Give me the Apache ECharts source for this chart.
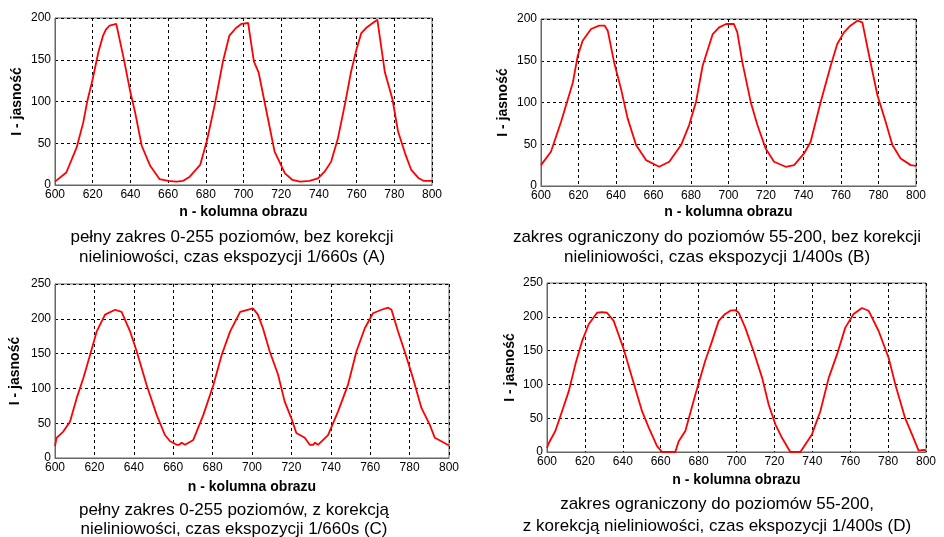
<!DOCTYPE html>
<html>
<head>
<meta charset="utf-8">
<script src="https://cdn.jsdelivr.net/npm/echarts@6/dist/echarts.min.js"></script>
<style>
  html, body { margin: 0; padding: 0; background: #fff; }
  #box { width: 944px; height: 537px; }
</style>
</head>
<body>
<div id="box"></div>
<script>
// column numbers (x) and brightness (y)
const xA = [600,606,611.5,615,617,620,623,625.5,627,629,632.5,633.5,636.5,640,642.5,646,650.5,655.5,660,664.5,668,671.5,677,680.5,685,689,692.5,696,699,702.5,703.5,705.5,708,713,716.5,722,726,730,735,739.5,743,746.5,750,754,757,760,762.5,765,768,771,772,775,779,782,786,789,793,795.5,800];
const yA = [4,15,45,75,99,127,159,179,186,191,193,191,151,111,87,47,23,7,5,4,5,10,24,52,99,147,179,188,193,194,178,148,135,79,40,14,6,4,5,8,16,28,55,99,135,163,182,188,193,198,196,135,103,64,36,18,8,5,5];

const xB = [600,605.3,610.7,615,617,619.6,622.2,626.7,631,634,635.6,639,642.7,646.2,650.7,656,663,668.4,674.7,679,682.7,686.2,691.6,695,698.7,702.9,704.7,707.4,711.8,715.4,719.8,724.3,730.5,735,740.3,743.8,749.2,754.5,758,761.6,765,768.7,771.4,775,779.4,783.8,787.4,791.8,797.2,800];
const yB = [25,41,77,109,124,156,174,188,192,192,186,148,116,81,49,31,23,29,49,73,101,144,182,190,194,194,184,148,101,73,45,29,23,25,39,53,101,144,170,184,192,198,196,156,109,77,49,33,25,24];

const xC = [600,600.8,604.2,607.6,611,614.4,617.8,621.2,625.4,630.5,633.8,638.1,641.5,646.5,651.6,655.8,658.4,661.8,663,664.3,666,670.2,675.3,680.4,684.6,688.9,694,700.5,703,705.6,709,713.2,716.6,720,722.5,726.8,729.3,731,732,733.5,738.6,743.7,748.7,753,757.2,761.4,765.7,769.1,770.8,774.1,777.5,781.7,786,790.2,792.8,796.1,800];
const yC = [17,29,38,52,86,115,148,182,206,213,210,182,153,105,62,33,24,19,19,22,19,26,62,105,148,182,210,215,206,186,153,120,81,57,36,29,19,19,22,19,33,67,105,153,186,208,213,216,213,182,153,115,72,48,29,24,18];

const xD = [600,600.9,604.4,607.9,611.5,615,618.5,622,626.4,629,631.7,635.2,640.5,644.9,650.2,653.7,658,660.7,667.7,669.5,673,678.3,683.5,687.1,690.6,693.5,696.7,699.4,701.2,704.6,709,713.5,717,720.5,724,728.4,733.7,739.8,744.2,748.7,753,757.4,761.8,766.2,769.7,775,780.3,783.8,789,792.6,796.1,798.7,800];
const yD = [6,13,31,60,90,130,164,189,206,207,206,194,152,110,60,36,9,0,0,16,31,85,135,164,194,203,209,210,206,184,149,110,70,41,21,0,0,26,60,110,144,184,204,213,209,179,139,100,50,26,2,3,2];

const yMaxTop = 200;
const yMaxBottom = 250;
const xName = 'n - kolumna obrazu';
const yName = 'I - jasność';
const captions = [
  'pełny zakres 0-255 poziomów, bez korekcji\nnieliniowości, czas ekspozycji 1/660s (A)',
  'zakres ograniczony do poziomów 55-200, bez korekcji\nnieliniowości, czas ekspozycji 1/400s (B)',
  'pełny zakres 0-255 poziomów, z korekcją\nnieliniowości, czas ekspozycji 1/660s (C)',
  'zakres ograniczony do poziomów 55-200,\nz korekcją nieliniowości, czas ekspozycji 1/400s (D)'
];

const FONT = '"Liberation Sans", Arial, sans-serif';

// panel layout: plot box, axis name gaps, caption position
const panels = [
  { x: xA, y: yA, max: yMaxTop,    grid: { left: 55,  top: 18,  width: 377, height: 167 }, ygap: 31, xgap: 20, cap: [232, 227, 20] },
  { x: xB, y: yB, max: yMaxTop,    grid: { left: 541, top: 19,  width: 375, height: 167 }, ygap: 31, xgap: 19, cap: [717, 227, 20] },
  { x: xC, y: yC, max: yMaxBottom, grid: { left: 55,  top: 284, width: 394, height: 174 }, ygap: 33, xgap: 22, cap: [234, 501, 19] },
  { x: xD, y: yD, max: yMaxBottom, grid: { left: 547, top: 283, width: 379, height: 169 }, ygap: 30, xgap: 21, cap: [717, 493, 22] }
];

const dashed = { color: '#000', type: [3, 3], width: 1 };

const chart = echarts.init(document.getElementById('box'));
const option = {
  animation: false,
  backgroundColor: '#fff',
  grid: panels.map(p => Object.assign({ show: true, borderColor: '#666', borderWidth: 1, backgroundColor: '#fff' }, p.grid)),
  xAxis: panels.map((p, i) => ({
    type: 'value',
    gridIndex: i,
    min: 600,
    max: 800,
    interval: 20,
    name: xName,
    nameLocation: 'middle',
    nameGap: p.xgap,
    nameTextStyle: { color: '#000', fontSize: 14, fontWeight: 'bold', fontFamily: FONT },
    axisLine: { show: true, lineStyle: { color: '#666' } },
    axisTick: { show: false },
    axisLabel: { color: '#000', fontSize: 12, margin: 4, fontFamily: FONT },
    splitLine: { show: true, lineStyle: dashed }
  })),
  yAxis: panels.map((p, i) => ({
    type: 'value',
    gridIndex: i,
    min: 0,
    max: p.max,
    interval: 50,
    name: yName,
    nameLocation: 'middle',
    nameGap: p.ygap,
    nameTextStyle: { color: '#000', fontSize: 14, fontWeight: 'bold', fontFamily: FONT },
    axisLine: { show: true, lineStyle: { color: '#666' } },
    axisTick: { show: false },
    axisLabel: { color: '#000', fontSize: 12, margin: 4, fontFamily: FONT },
    splitLine: { show: true, lineStyle: dashed }
  })),
  series: panels.map((p, i) => ({
    type: 'line',
    xAxisIndex: i,
    yAxisIndex: i,
    data: p.x.map((v, k) => [v, p.y[k]]),
    showSymbol: false,
    clip: true,
    lineStyle: { color: '#ff0000', width: 1.8 }
  })),
  graphic: panels.map((p, i) => ({
    type: 'text',
    x: p.cap[0],
    y: p.cap[1],
    style: {
      text: captions[i],
      align: 'center',
      verticalAlign: 'top',
      fill: '#000',
      fontSize: 17,
      lineHeight: p.cap[2],
      fontFamily: FONT
    }
  }))
};
chart.setOption(option);
</script>
</body>
</html>
